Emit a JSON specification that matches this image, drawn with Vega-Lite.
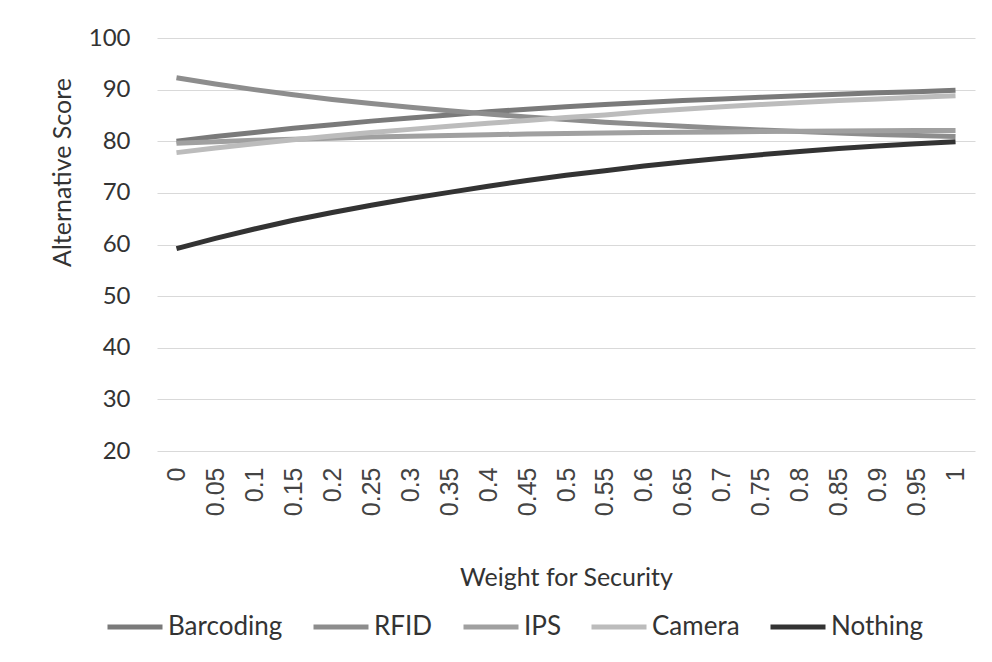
{
  "$schema": "https://vega.github.io/schema/vega-lite/v6.json",
  "width": 818,
  "height": 413,
  "autosize": "none",
  "padding": {"left": 157, "top": 38, "right": 17, "bottom": 211},
  "background": "white",
  "data": {
    "values": [
      {"w": "0", "Barcoding": 80.0, "RFID": 92.3, "IPS": 79.6, "Camera": 77.8, "Nothing": 59.2},
      {"w": "0.05", "Barcoding": 80.9, "RFID": 91.1, "IPS": 79.9, "Camera": 78.7, "Nothing": 61.2},
      {"w": "0.1", "Barcoding": 81.7, "RFID": 90.0, "IPS": 80.2, "Camera": 79.5, "Nothing": 63.0},
      {"w": "0.15", "Barcoding": 82.5, "RFID": 89.0, "IPS": 80.4, "Camera": 80.3, "Nothing": 64.7},
      {"w": "0.2", "Barcoding": 83.2, "RFID": 88.1, "IPS": 80.6, "Camera": 81.0, "Nothing": 66.2},
      {"w": "0.25", "Barcoding": 83.9, "RFID": 87.3, "IPS": 80.8, "Camera": 81.7, "Nothing": 67.6},
      {"w": "0.3", "Barcoding": 84.5, "RFID": 86.6, "IPS": 80.95, "Camera": 82.3, "Nothing": 68.9},
      {"w": "0.35", "Barcoding": 85.1, "RFID": 85.9, "IPS": 81.1, "Camera": 82.9, "Nothing": 70.1},
      {"w": "0.4", "Barcoding": 85.7, "RFID": 85.3, "IPS": 81.25, "Camera": 83.5, "Nothing": 71.3},
      {"w": "0.45", "Barcoding": 86.2, "RFID": 84.7, "IPS": 81.4, "Camera": 84.0, "Nothing": 72.4},
      {"w": "0.5", "Barcoding": 86.7, "RFID": 84.2, "IPS": 81.5, "Camera": 84.6, "Nothing": 73.4},
      {"w": "0.55", "Barcoding": 87.1, "RFID": 83.7, "IPS": 81.6, "Camera": 85.1, "Nothing": 74.3},
      {"w": "0.6", "Barcoding": 87.5, "RFID": 83.3, "IPS": 81.7, "Camera": 85.7, "Nothing": 75.2},
      {"w": "0.65", "Barcoding": 87.9, "RFID": 82.9, "IPS": 81.75, "Camera": 86.2, "Nothing": 76.0},
      {"w": "0.7", "Barcoding": 88.2, "RFID": 82.5, "IPS": 81.8, "Camera": 86.7, "Nothing": 76.7},
      {"w": "0.75", "Barcoding": 88.5, "RFID": 82.2, "IPS": 81.9, "Camera": 87.1, "Nothing": 77.4},
      {"w": "0.8", "Barcoding": 88.8, "RFID": 81.9, "IPS": 81.95, "Camera": 87.5, "Nothing": 78.0},
      {"w": "0.85", "Barcoding": 89.1, "RFID": 81.6, "IPS": 82.0, "Camera": 87.9, "Nothing": 78.6},
      {"w": "0.9", "Barcoding": 89.4, "RFID": 81.3, "IPS": 82.05, "Camera": 88.2, "Nothing": 79.1},
      {"w": "0.95", "Barcoding": 89.6, "RFID": 81.1, "IPS": 82.1, "Camera": 88.5, "Nothing": 79.5},
      {"w": "1", "Barcoding": 89.9, "RFID": 80.9, "IPS": 82.1, "Camera": 88.8, "Nothing": 79.9}
    ]
  },
  "transform": [
    {"fold": ["Barcoding", "RFID", "IPS", "Camera", "Nothing"], "as": ["alt", "score"]}
  ],
  "mark": {"type": "line", "strokeWidth": 5},
  "encoding": {
    "x": {
      "field": "w",
      "type": "ordinal",
      "sort": ["0","0.05","0.1","0.15","0.2","0.25","0.3","0.35","0.4","0.45","0.5","0.55","0.6","0.65","0.7","0.75","0.8","0.85","0.9","0.95","1"],
      "scale": {"type": "point", "padding": 0.5},
      "axis": {
        "title": "Weight for Security",
        "titleFont": "Lato",
        "titleFontSize": 25,
        "titleFontWeight": "normal",
        "titleColor": "#333333",
        "titleY": 126,
        "titleBaseline": "middle",
        "labelAngle": -90,
        "labelFont": "Liberation Sans",
        "labelFontSize": 25,
        "labelColor": "#444444",
        "labelPadding": 16,
        "ticks": false,
        "domain": false,
        "grid": false
      }
    },
    "y": {
      "field": "score",
      "type": "quantitative",
      "scale": {"domain": [20, 100], "nice": false, "zero": false},
      "axis": {
        "values": [20, 30, 40, 50, 60, 70, 80, 90, 100],
        "title": "Alternative Score",
        "titleFont": "Lato",
        "titleFontSize": 25,
        "titleFontWeight": "normal",
        "titleColor": "#333333",
        "titleX": -95,
        "titleY": 134,
        "titleBaseline": "middle",
        "titleAngle": -90,
        "labelFont": "Lato",
        "labelFontSize": 24,
        "labelColor": "#333333",
        "labelPadding": 27,
        "ticks": false,
        "domain": false,
        "grid": true,
        "gridColor": "#d9d9d9",
        "gridWidth": 1.2
      }
    },
    "color": {
      "field": "alt",
      "type": "nominal",
      "scale": {
        "domain": ["Barcoding", "RFID", "IPS", "Camera", "Nothing"],
        "range": ["#7a7a7a", "#8d8d8d", "#a0a0a0", "#bcbcbc", "#333333"]
      },
      "legend": {
        "orient": "none",
        "legendX": -52,
        "legendY": 559,
        "direction": "horizontal",
        "columns": 5,
        "title": null,
        "symbolType": "stroke",
        "symbolSize": 3025,
        "symbolStrokeWidth": 5,
        "labelFont": "Lato",
        "labelFontSize": 26,
        "labelColor": "#333333",
        "labelOffset": 3,
        "labelLimit": 300,
        "columnPadding": 20
      }
    }
  },
  "config": {"view": {"stroke": null}}
}
